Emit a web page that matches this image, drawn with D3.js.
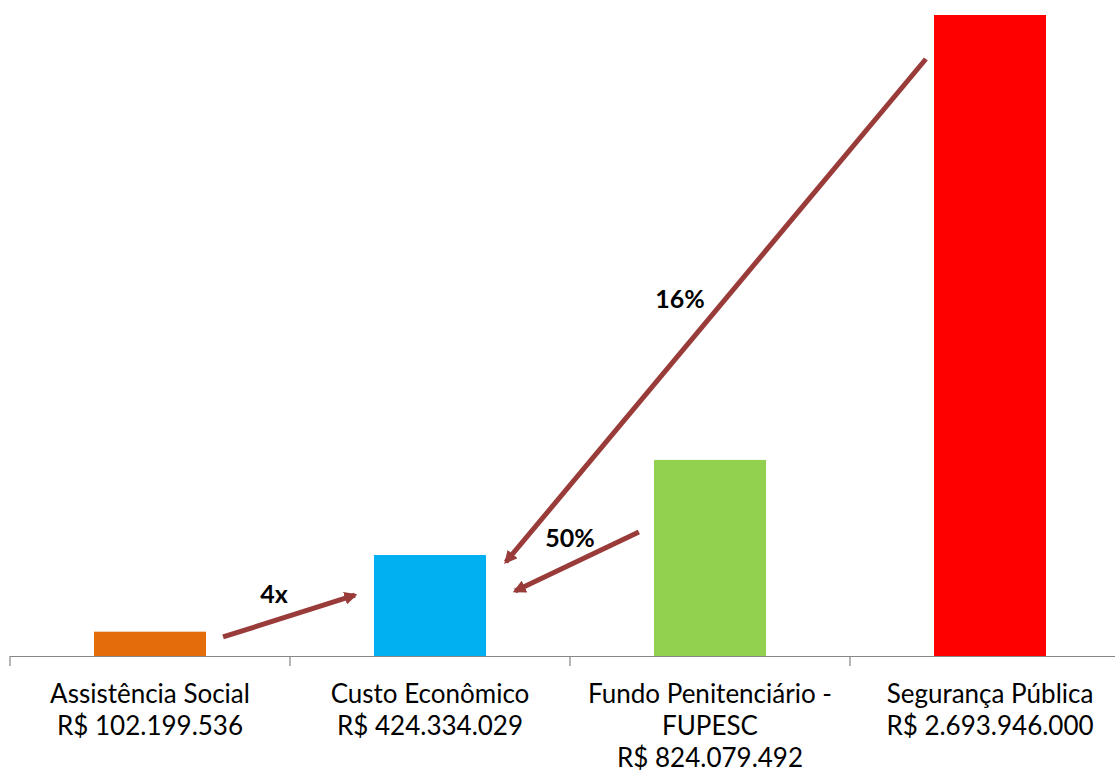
<!DOCTYPE html>
<html><head><meta charset="utf-8">
<script src="https://cdn.jsdelivr.net/npm/d3@7"></script>
<style>body{margin:0;background:#fff}svg{display:block}</style>
</head><body>
<script>
const categories = ["Assistência Social", "Custo Econômico", "Fundo Penitenciário - FUPESC", "Segurança Pública"];
const labelLines = [["Assistência Social","R$ 102.199.536"],["Custo Econômico","R$ 424.334.029"],["Fundo Penitenciário -","FUPESC","R$ 824.079.492"],["Segurança Pública","R$ 2.693.946.000"]];
const values = [102199536, 424334029, 824079492, 2693946000];
const colors = ["#E46C0A", "#00B0F0", "#92D050", "#FF0000"];
// arrows: positions in category-index units and value units
const arrows = [
  {x1:0.261, v1:79.9e6, x2:0.732, v2:256e6},
  {x1:1.746, v1:521e6, x2:1.304, v2:273e6},
  {x1:2.771, v1:2509e6, x2:1.271, v2:395e6}
];
const arrowLabels = [
  {text:"4x", x:0.443, v:222e6},
  {text:"50%", x:1.5, v:458e6},
  {text:"16%", x:1.893, v:1462e6}
];

const W=1115,H=776;
const svg=d3.select("body").append("svg").attr("width",W).attr("height",H);
const x=d3.scaleBand().domain(categories).range([10,1130]).paddingInner(0.6).paddingOuter(0.3);
const xi=d3.scaleLinear().domain([-0.5,3.5]).range([10,1130]);
const y=d3.scaleLinear().domain([0,2693946000]).range([656,15]);

svg.append("defs").append("marker").attr("id","ah").attr("viewBox","0 0 10 10")
 .attr("refX",8).attr("refY",5).attr("markerWidth",2.6).attr("markerHeight",2.6)
 .attr("orient","auto").append("path").attr("d","M0,0L10,5L0,10z").attr("fill","#993B39");

svg.selectAll("rect.bar").data(values).enter().append("rect").attr("class","bar")
 .attr("x",(d,i)=>x(categories[i])).attr("width",x.bandwidth())
 .attr("y",d=>y(d)).attr("height",d=>y(0)-y(d)).attr("fill",(d,i)=>colors[i]);

// axis
const ax=svg.append("g").attr("stroke","#868686").attr("stroke-width",1.2);
ax.append("line").attr("x1",10).attr("x2",1130).attr("y1",y(0)+0.5).attr("y2",y(0)+0.5);
const bounds=[...categories.map(c=>x(c)-x.step()*x.paddingInner()/2),1130];
ax.selectAll("line.t").data(bounds).enter().append("line")
 .attr("x1",d=>d).attr("x2",d=>d).attr("y1",y(0)).attr("y2",y(0)+10);

// labels
const lg=svg.append("g").attr("font-family","Lato, 'Open Sans', sans-serif").attr("font-size",26).attr("fill","#000").attr("text-anchor","middle");
labelLines.forEach((lines,i)=>{
  const t=lg.append("text").attr("x",x(categories[i])+x.bandwidth()/2).attr("y",703);
  lines.forEach((l,j)=>t.append("tspan").attr("x",x(categories[i])+x.bandwidth()/2).attr("dy",j?32:0).text(l));
});

// arrows
svg.selectAll("line.arr").data(arrows).enter().append("line")
 .attr("x1",d=>xi(d.x1)).attr("y1",d=>y(d.v1)).attr("x2",d=>xi(d.x2)).attr("y2",d=>y(d.v2))
 .attr("stroke","#993B39").attr("stroke-width",5).attr("marker-end","url(#ah)");

svg.selectAll("text.al").data(arrowLabels).enter().append("text")
 .attr("x",d=>xi(d.x)).attr("y",d=>y(d.v)).attr("text-anchor","middle")
 .attr("font-family","Lato, 'Open Sans', sans-serif").attr("font-weight","bold").attr("font-size",25)
 .text(d=>d.text);
</script>
</body></html>
